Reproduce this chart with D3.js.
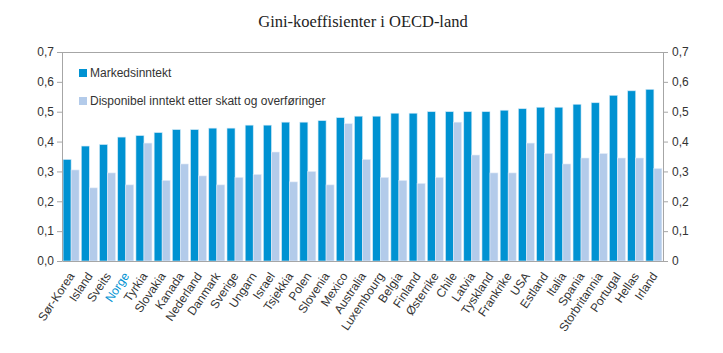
<!DOCTYPE html>
<html>
<head>
<meta charset="utf-8">
<script src="https://cdn.jsdelivr.net/npm/d3@7"></script>
<style>
  body { margin: 0; background: #fff; }
  svg { display: block; }
</style>
</head>
<body>
<script>
const countries = ["Sør-Korea","Island","Sveits","Norge","Tyrkia","Slovakia","Kanada","Nederland","Danmark","Sverige","Ungarn","Israel","Tsjekkia","Polen","Slovenia","Mexico","Australia","Luxembourg","Belgia","Finland","Østerrike","Chile","Latvia","Tyskland","Frankrike","USA","Estland","Italia","Spania","Storbritannia","Portugal","Hellas","Irland"];
const marketIncome = [0.34,0.385,0.39,0.415,0.42,0.43,0.44,0.44,0.445,0.445,0.455,0.455,0.465,0.465,0.47,0.48,0.485,0.485,0.495,0.495,0.50,0.50,0.50,0.50,0.505,0.51,0.515,0.515,0.525,0.53,0.555,0.57,0.575];
const disposableIncome = [0.305,0.245,0.295,0.255,0.395,0.27,0.325,0.285,0.255,0.28,0.29,0.365,0.265,0.30,0.255,0.46,0.34,0.28,0.27,0.26,0.28,0.465,0.355,0.295,0.295,0.395,0.36,0.325,0.345,0.36,0.345,0.345,0.31];
const seriesNames = ["Markedsinntekt","Disponibel inntekt etter skatt og overføringer"];
const yTicks = [0,0.1,0.2,0.3,0.4,0.5,0.6,0.7];
const chartTitle = "Gini-koeffisienter i OECD-land";

const W = 723, H = 353;
const mLeft = 62, mRight = 663, mTop = 52, mBottom = 261;
const colors = ["#0092d2", "#b3cbea"];
const fmtLeft = d => d3.format(".1f")(d).replace(".", ",");
const fmtRight = d => d === 0 ? "0" : d3.format(".1f")(d).replace(".", ",");

const svg = d3.select("body").append("svg").attr("width", W).attr("height", H);

const x = d3.scaleBand().domain(countries).range([mLeft, mRight]).paddingInner(0.12).paddingOuter(0.06);
const xs = d3.scaleBand().domain([0,1]).range([0, x.bandwidth()]);
const y = d3.scaleLinear().domain([0, 0.7]).range([mBottom, mTop]);

svg.append("text").attr("x", 363).attr("y", 27).attr("text-anchor", "middle")
  .attr("font-family", "Liberation Serif, Times New Roman, serif").attr("font-size", 16.5)
  .attr("fill", "#222").text(chartTitle);

// bars
const data = countries.map((c, i) => ({c, v: [marketIncome[i], disposableIncome[i]]}));
const g = svg.append("g");
data.forEach(d => {
  d.v.forEach((v, k) => {
    g.append("rect")
      .attr("x", x(d.c) + xs(k)).attr("width", xs.bandwidth())
      .attr("y", y(v)).attr("height", y(0) - y(v))
      .attr("fill", colors[k])
      .attr("stroke", k === 0 ? "#cde8f7" : "#e4edf8").attr("stroke-width", 0.6);
  });
});

// top border
svg.append("line").attr("x1", mLeft).attr("x2", mRight).attr("y1", mTop + 0.5).attr("y2", mTop + 0.5)
  .attr("stroke", "#a6a6a6").attr("stroke-width", 1);

const axisStyle = sel => {
  sel.selectAll("path").attr("stroke", "#a6a6a6");
  sel.selectAll("line").attr("stroke", "#a6a6a6");
  sel.selectAll("text").attr("fill", "#333").attr("font-size", 12)
    .attr("font-family", "Liberation Sans, Arial, sans-serif");
};

svg.append("g").attr("transform", `translate(${mLeft},0)`)
  .call(d3.axisLeft(y).tickValues(yTicks).tickFormat(fmtLeft).tickSize(5).tickSizeOuter(0).tickPadding(3))
  .call(axisStyle);

svg.append("g").attr("transform", `translate(${mRight},0)`)
  .call(d3.axisRight(y).tickValues(yTicks).tickFormat(fmtRight).tickSize(5).tickSizeOuter(0).tickPadding(4))
  .call(axisStyle);

// bottom axis
const xa = svg.append("g").attr("transform", `translate(0,${mBottom})`)
  .call(d3.axisBottom(x).tickSize(0).tickSizeOuter(0).tickPadding(0));
xa.select("path").attr("stroke", "#a6a6a6");
xa.selectAll("text")
  .attr("font-size", 12).attr("font-family", "Liberation Sans, Arial, sans-serif")
  .attr("fill", d => d === "Norge" ? "#0092d2" : "#333")
  .attr("text-anchor", "end")
  .attr("dy", null).attr("y", null)
  .attr("transform", "translate(4,15) rotate(-56)");

// legend
const leg = svg.append("g");
seriesNames.forEach((s, i) => {
  leg.append("rect").attr("x", 79).attr("y", 69 + i * 28).attr("width", 8).attr("height", 8).attr("fill", colors[i]);
  leg.append("text").attr("x", 90).attr("y", 77 + i * 28)
    .attr("font-size", 12).attr("font-family", "Liberation Sans, Arial, sans-serif")
    .attr("fill", "#333").text(s);
});
</script>
</body>
</html>
